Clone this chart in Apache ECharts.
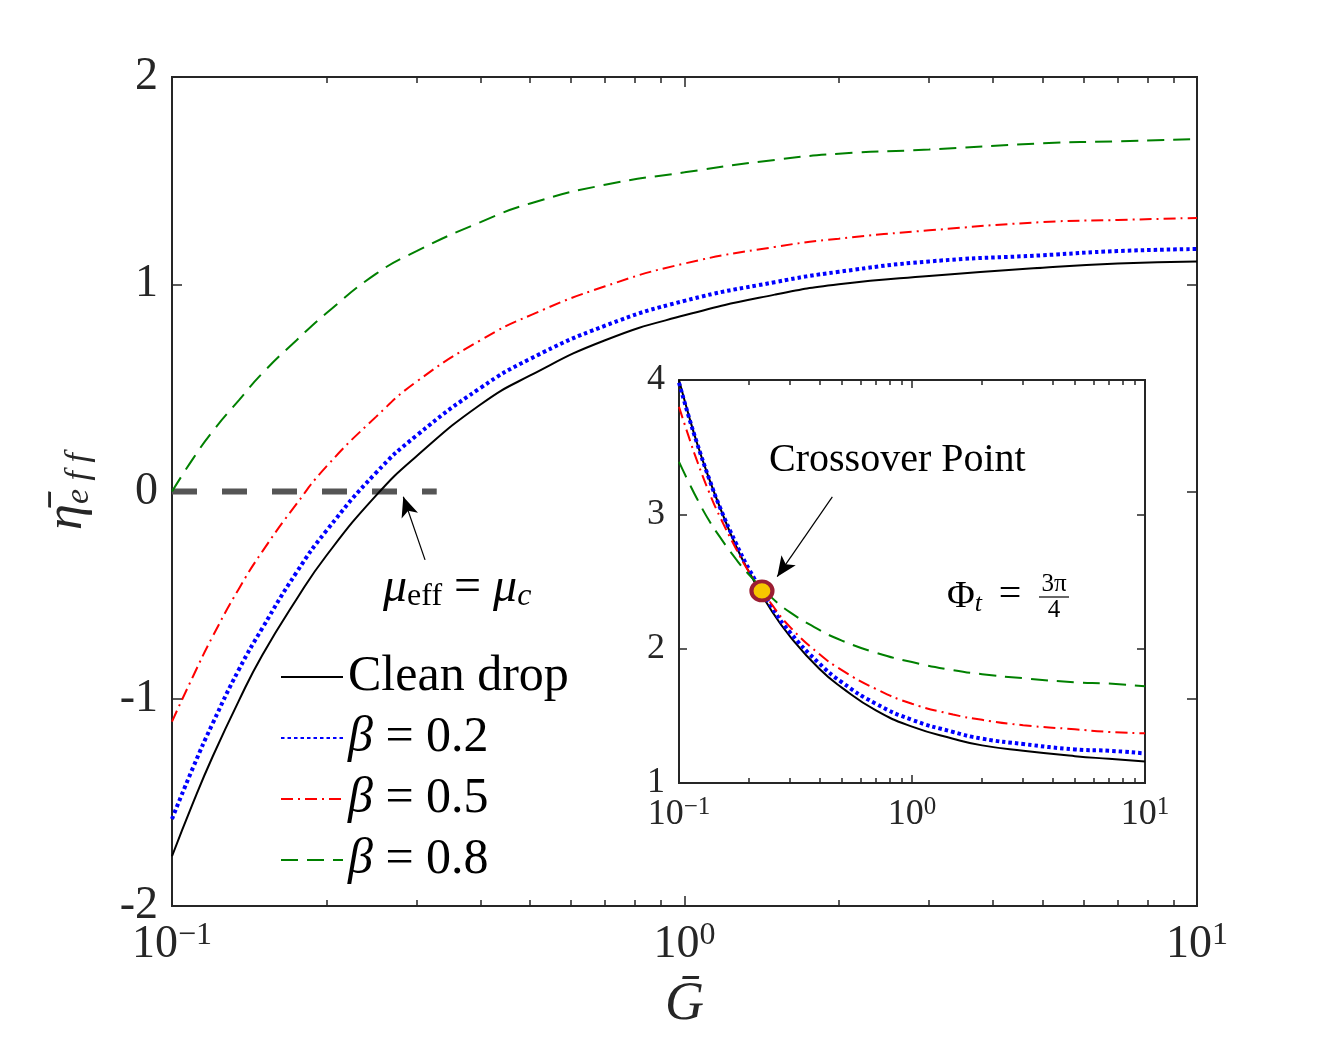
<!DOCTYPE html>
<html>
<head>
<meta charset="utf-8">
<title>effective viscosity vs G</title>
<script src="https://cdn.jsdelivr.net/npm/echarts@6/dist/echarts.min.js"></script>
<style>
    html, body { margin: 0; padding: 0; background: #fff; }
    #chart { width: 1323px; height: 1048px; }
</style>
</head>
<body>
<div id="chart"></div>
<script>
const gValues = [0.1, 0.11, 0.12, 0.135, 0.15, 0.175, 0.2, 0.25, 0.3, 0.4, 0.5, 0.7, 1, 1.5, 2, 3, 5, 7, 10];

// main panel: eta_eff
const mainClean  = [-1.76, -1.50, -1.28, -1.01, -0.79, -0.52, -0.31, -0.02, 0.17, 0.42, 0.56, 0.73, 0.85, 0.95, 1.00, 1.04, 1.08, 1.10, 1.11];
const mainBeta02 = [-1.58, -1.33, -1.12, -0.86, -0.66, -0.39, -0.19, 0.09, 0.27, 0.50, 0.64, 0.80, 0.92, 1.01, 1.06, 1.11, 1.14, 1.16, 1.17];
const mainBeta05 = [-1.11, -0.89, -0.70, -0.47, -0.29, -0.06, 0.12, 0.36, 0.53, 0.73, 0.85, 0.99, 1.10, 1.18, 1.22, 1.26, 1.30, 1.31, 1.32];
const mainBeta08 = [0.00, 0.16, 0.29, 0.44, 0.57, 0.73, 0.86, 1.05, 1.16, 1.30, 1.39, 1.48, 1.54, 1.60, 1.63, 1.65, 1.68, 1.69, 1.70];

// inset panel
const insetClean  = [4.00, 3.74, 3.52, 3.26, 3.05, 2.77, 2.57, 2.28, 2.09, 1.85, 1.71, 1.54, 1.42, 1.33, 1.28, 1.24, 1.20, 1.18, 1.16];
const insetBeta02 = [3.98, 3.73, 3.52, 3.26, 3.05, 2.79, 2.59, 2.31, 2.12, 1.89, 1.75, 1.59, 1.47, 1.38, 1.33, 1.29, 1.25, 1.24, 1.22];
const insetBeta05 = [3.80, 3.58, 3.39, 3.16, 2.98, 2.75, 2.57, 2.33, 2.16, 1.96, 1.84, 1.70, 1.59, 1.51, 1.47, 1.43, 1.40, 1.38, 1.37];
const insetBeta08 = [3.39, 3.24, 3.11, 2.95, 2.83, 2.67, 2.55, 2.38, 2.27, 2.14, 2.06, 1.97, 1.90, 1.84, 1.81, 1.78, 1.75, 1.74, 1.72];

// the mu_eff = mu_c reference line and the crossover point
const zeroLine = [[0.1, 0], [0.3285, 0]];
const crossover = [[0.227, 2.43]];

// annotation arrows (tail, head) in data units
const arrowMain  = [[0.3117, -0.33], [0.2827, -0.025]];
const arrowInset = [[0.455, 3.13], [0.264, 2.536]];

// ticks
const majorTicks = [0.1, 1, 10];
const minorTicks = [0.2, 0.3, 0.4, 0.5, 0.6, 0.7, 0.8, 0.9, 2, 3, 4, 5, 6, 7, 8, 9];

const legendNames = ['Clean drop', 'β = 0.2', 'β = 0.5', 'β = 0.8'];

const FONT = 'Liberation Serif';
const AXIS_COLOR = '#262626';

const pairs = ys => gValues.map((g, i) => [g, ys[i]]);

// log x axis; labels like 10^-1
function xLogAxis(gridIndex, position, ticks, tickLen, labelSize) {
    const axis = {
        type: 'log',
        logBase: 10,
        gridIndex: gridIndex,
        position: position,
        min: 0.1,
        max: 10,
        axisLine: { show: false, onZero: false },
        splitLine: { show: false },
        axisTick: {
            show: true, inside: true, length: tickLen, customValues: ticks,
            lineStyle: { color: AXIS_COLOR, width: 1.5 }
        },
        axisLabel: { show: false }
    };
    if (labelSize) {
        axis.axisLabel = {
            show: true,
            customValues: majorTicks,
            margin: labelSize > 40 ? 14 : 12,
            formatter: function (v) {
                const p = Math.round(Math.log10(v));
                return '{b|10}{p|' + (p < 0 ? '−' + (-p) : p) + '}';
            },
            rich: {
                b: { fontFamily: FONT, fontSize: labelSize, lineHeight: labelSize + 4, color: '#262626' },
                p: { fontFamily: FONT, fontSize: Math.round(labelSize * 0.7), lineHeight: Math.round(labelSize * 0.72), verticalAlign: 'top', color: '#262626' }
            }
        };
    }
    return axis;
}

function yAxisOf(gridIndex, position, min, max, tickLen, labelSize) {
    return {
        type: 'value',
        gridIndex: gridIndex,
        position: position,
        min: min,
        max: max,
        interval: 1,
        axisLine: { show: false, onZero: false },
        splitLine: { show: false },
        axisTick: { show: true, inside: true, length: tickLen, lineStyle: { color: AXIS_COLOR, width: 1.5 } },
        axisLabel: labelSize ? {
            show: true, margin: 14, fontFamily: FONT, fontSize: labelSize, color: '#262626'
        } : { show: false }
    };
}

function lineSeries(name, data, xi, yi, color, width, type) {
    return {
        name: name,
        type: 'line',
        xAxisIndex: xi,
        yAxisIndex: yi,
        data: pairs(data),
        smooth: 0.5,
        symbol: 'none',
        lineStyle: { color: color, width: width, type: type, cap: 'butt' },
        itemStyle: { color: color },
        emphasis: { disabled: true },
        z: 3
    };
}

const blueDot = [3.5, 3];
const redDashDot = [12, 5, 2, 5];
const greenDash = [17, 9];

const chart = echarts.init(document.getElementById('chart'));

const xAxes = [
    // main panel
    xLogAxis(0, 'bottom', majorTicks, 10, 46),
    xLogAxis(0, 'bottom', minorTicks, 6, 0),
    xLogAxis(0, 'top', majorTicks, 10, 0),
    xLogAxis(0, 'top', minorTicks, 6, 0),
    // inset
    xLogAxis(1, 'bottom', majorTicks, 8, 36),
    xLogAxis(1, 'bottom', minorTicks, 5, 0),
    xLogAxis(1, 'top', majorTicks, 8, 0),
    xLogAxis(1, 'top', minorTicks, 5, 0)
];
xAxes[0].name = 'Ḡ';
xAxes[0].nameLocation = 'middle';
xAxes[0].nameGap = 72;
xAxes[0].nameTextStyle = { fontFamily: FONT, fontStyle: 'italic', fontSize: 54, color: '#262626' };

const yAxes = [
    yAxisOf(0, 'left', -2, 2, 10, 46),
    yAxisOf(0, 'right', -2, 2, 10, 0),
    yAxisOf(1, 'left', 1, 4, 8, 36),
    yAxisOf(1, 'right', 1, 4, 8, 0)
];
yAxes[0].name = '{e|η̄}{s|e f f}';
yAxes[0].nameLocation = 'middle';
yAxes[0].nameRotate = 90;
yAxes[0].nameGap = 76;
yAxes[0].nameTextStyle = {
    rich: {
        e: { fontFamily: FONT, fontStyle: 'italic', fontSize: 52, lineHeight: 58, color: '#262626' },
        s: { fontFamily: FONT, fontStyle: 'italic', fontSize: 34, lineHeight: 34, verticalAlign: 'bottom', color: '#262626' }
    }
};

const option = {
    animation: false,
    backgroundColor: '#fff',
    grid: [
        { left: 172, top: 77, right: 126, bottom: 142, show: true, borderColor: AXIS_COLOR, borderWidth: 2, backgroundColor: '#fff', containLabel: false, outerBoundsMode: 'none' },
        { left: 679, top: 380, right: 178, bottom: 265, show: true, borderColor: AXIS_COLOR, borderWidth: 2, backgroundColor: '#fff', containLabel: false, outerBoundsMode: 'none' }
    ],
    xAxis: xAxes,
    yAxis: yAxes,
    legend: {
        data: legendNames,
        orient: 'vertical',
        left: 280,
        top: 652,
        padding: 0,
        itemWidth: 62,
        itemHeight: 2,
        itemGap: 11,
        selectedMode: false,
        itemStyle: { opacity: 0, borderWidth: 0 },
        formatter: function (name) {
            if (name.charAt(0) === 'β') {
                return '{i|β}{n|' + name.slice(1) + '}';
            }
            return '{n|' + name + '}';
        },
        textStyle: {
            rich: {
                i: { fontFamily: FONT, fontStyle: 'italic', fontSize: 50, lineHeight: 50, color: '#000' },
                n: { fontFamily: FONT, fontSize: 50, lineHeight: 50, color: '#000' }
            }
        }
    },
    graphic: [
        {
            type: 'text', x: 383, y: 588,
            style: {
                text: '{m|μ}{s|eff}{n| = }{m|μ}{c|c}',
                verticalAlign: 'middle',
                rich: {
                    m: { fontFamily: FONT, fontStyle: 'italic', fontSize: 48, lineHeight: 50, fill: '#000' },
                    s: { fontFamily: FONT, fontSize: 32, lineHeight: 32, verticalAlign: 'bottom', fill: '#000' },
                    n: { fontFamily: FONT, fontSize: 48, lineHeight: 50, fill: '#000' },
                    c: { fontFamily: FONT, fontStyle: 'italic', fontSize: 32, lineHeight: 32, verticalAlign: 'bottom', fill: '#000' }
                }
            },
            z: 10
        },
        {
            type: 'text', x: 769, y: 460,
            style: { text: 'Crossover Point', fontFamily: FONT, fontSize: 40, fill: '#000', verticalAlign: 'middle' },
            z: 10
        },
        {
            type: 'text', x: 947, y: 597,
            style: {
                text: '{f|Φ}{t|t}',
                verticalAlign: 'middle',
                rich: {
                    f: { fontFamily: FONT, fontSize: 38, lineHeight: 40, fill: '#000' },
                    t: { fontFamily: FONT, fontStyle: 'italic', fontSize: 26, lineHeight: 26, verticalAlign: 'bottom', fill: '#000' }
                }
            },
            z: 10
        },
        {
            type: 'text', x: 1010, y: 595,
            style: { text: '=', fontFamily: FONT, fontSize: 40, fill: '#000', align: 'center', verticalAlign: 'middle' },
            z: 10
        },
        {
            type: 'text', x: 1054, y: 584,
            style: { text: '3π', fontFamily: FONT, fontSize: 25, fill: '#000', align: 'center', verticalAlign: 'middle' },
            z: 10
        },
        {
            type: 'line', shape: { x1: 1039, y1: 597, x2: 1069, y2: 597 },
            style: { stroke: '#000', lineWidth: 1.2 },
            z: 10
        },
        {
            type: 'text', x: 1054, y: 610,
            style: { text: '4', fontFamily: FONT, fontSize: 25, fill: '#000', align: 'center', verticalAlign: 'middle' },
            z: 10
        }
    ],
    series: [
        {
            name: 'mu line',
            type: 'line',
            xAxisIndex: 0,
            yAxisIndex: 0,
            data: zeroLine,
            symbol: 'none',
            lineStyle: { color: '#555555', width: 6, type: [25, 25], cap: 'butt' },
            emphasis: { disabled: true },
            z: 2,
            markLine: {
                silent: true,
                symbol: ['none', 'arrow'],
                symbolSize: [13, 20],
                label: { show: false },
                lineStyle: { color: '#000', width: 1.2, type: 'solid' },
                data: [[{ coord: arrowMain[0] }, { coord: arrowMain[1] }]]
            }
        },
        lineSeries('Clean drop', mainClean, 0, 0, '#000000', 2, 'solid'),
        lineSeries('β = 0.2', mainBeta02, 0, 0, '#0000ff', 4, blueDot),
        lineSeries('β = 0.5', mainBeta05, 0, 0, '#ff0000', 2, redDashDot),
        lineSeries('β = 0.8', mainBeta08, 0, 0, '#008000', 2, greenDash),
        lineSeries('Clean drop', insetClean, 4, 2, '#000000', 2, 'solid'),
        lineSeries('β = 0.2', insetBeta02, 4, 2, '#0000ff', 4, blueDot),
        lineSeries('β = 0.5', insetBeta05, 4, 2, '#ff0000', 2, redDashDot),
        lineSeries('β = 0.8', insetBeta08, 4, 2, '#008000', 2, greenDash),
        {
            name: 'crossover',
            type: 'scatter',
            xAxisIndex: 4,
            yAxisIndex: 2,
            data: crossover,
            symbol: 'circle',
            symbolSize: [21, 19],
            itemStyle: { color: '#f7c600', borderColor: '#9b1d32', borderWidth: 4, opacity: 1 },
            emphasis: { disabled: true },
            z: 6,
            markLine: {
                silent: true,
                symbol: ['none', 'arrow'],
                symbolSize: [13, 20],
                label: { show: false },
                lineStyle: { color: '#000', width: 1.2, type: 'solid' },
                data: [[{ coord: arrowInset[0] }, { coord: arrowInset[1] }]]
            }
        }
    ]
};

chart.setOption(option);
</script>
</body>
</html>
